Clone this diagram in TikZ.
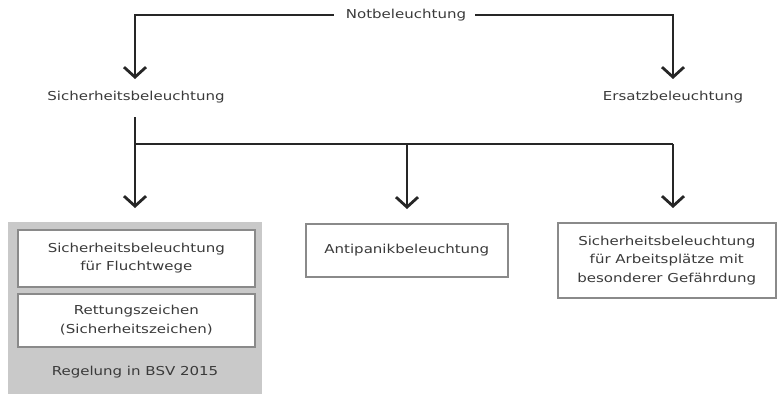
\documentclass[tikz,border=0pt]{standalone}
\usepackage{fontspec}
\setmainfont{DejaVu Sans}[FakeStretch=1.22]
\usetikzlibrary{arrows.meta}
\definecolor{txt}{HTML}{3A3A3A}
\definecolor{panel}{HTML}{C9C9C9}
\definecolor{boxline}{HTML}{8A8A8A}
\tikzset{
  lbl/.style={text=txt, font=\fontsize{12.3}{15}\selectfont, inner sep=0pt},
  conn/.style={line width=2.8pt, draw=black!85},
  arr/.style={conn, -{Straight Barb[length=10pt,width=22pt,line width=2.8pt]}},
  wbox/.style={draw=boxline, line width=1.6pt, fill=white, text=txt,
    font=\fontsize{12.3}{18.5}\selectfont, align=center, inner sep=0pt}
}
\begin{document}
\begin{tikzpicture}[x=1pt,y=-1pt]
\useasboundingbox (0,0) rectangle (777,394);
% top level
\node[lbl] (nb) at (406,15) {Notbeleuchtung};
\node[lbl] (sb) at (136,97) {Sicherheitsbeleuchtung};
\node[lbl] (eb) at (673,97) {Ersatzbeleuchtung};
\coordinate (sbtip) at (135,79);
\coordinate (ebtip) at (673,79);
\draw[arr] ([xshift=-12pt]nb.west) -| (sbtip);
\draw[arr] ([xshift=9pt]nb.east) -| (ebtip);
% grey panel
\node[fill=panel, minimum width=254pt, minimum height=172pt, inner sep=0pt, anchor=north west] (panel) at (8,222) {};
\node[wbox, minimum width=237pt, minimum height=57pt, anchor=north west] (fw) at (17,229) {Sicherheitsbeleuchtung\\für Fluchtwege};
\node[wbox, minimum width=237pt, minimum height=53pt, anchor=north west] (rz) at (17,293) {Rettungszeichen\\(Sicherheitszeichen)};
\node[lbl] (bsv) at (135,372) {Regelung in BSV 2015};
\node[wbox, minimum width=202pt, minimum height=53pt, anchor=north west] (ap) at (305,223) {Antipanikbeleuchtung};
\node[wbox, minimum width=218pt, minimum height=75pt, anchor=north west] (ag) at (557,222) {Sicherheitsbeleuchtung\\für Arbeitsplätze mit\\besonderer Gefährdung};
% second level connectors
\coordinate (j) at (135,144);
\coordinate (sbbot) at (135,117);
\draw[conn] (sbbot) -- (j);
\draw[conn] (j) -- (673,144);
\draw[arr] (j) -- ([yshift=14pt]panel.north -| j);
\draw[arr] (407,144) -- ([yshift=14pt]ap.north -| 407,0);
\draw[arr] (673,144) -- ([yshift=14pt]ag.north -| 673,0);
\end{tikzpicture}
\end{document}
